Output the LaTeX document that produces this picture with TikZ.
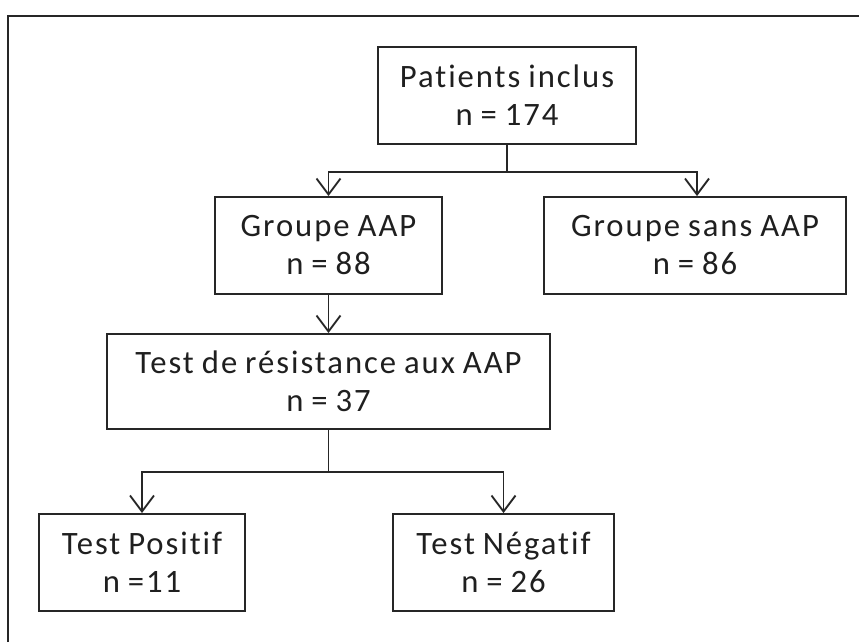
\documentclass[tikz,border=0pt]{standalone}
\usepackage{fontspec}
\setmainfont[Ligatures=NoCommon,LetterSpace=6,WordSpace=0.85]{Carlito}
\usetikzlibrary{arrows.meta}
\begin{document}
\begin{tikzpicture}[x=0.75pt,y=-0.75pt,
  box/.style={draw=black!85,line width=1.4pt,rectangle,inner sep=0pt,minimum height=72.75pt,
    align=center,font=\fontsize{24.5}{28.5}\selectfont,text=black!88},
  link/.style={draw=black!85,line width=1.4pt},
  arr/.style={link,-{Straight Barb[length=12pt,width=18pt,line width=1.4pt]}}]
\useasboundingbox (0,0) rectangle (859,642);
\draw[line width=1.4pt,black!85] (8,642) -- (8,16) -- (859,16);
\node[box,minimum width=193.5pt] (P) at (507,95.5) {Patients inclus\\n = 174};
\node[box,minimum width=170.25pt] (G) at (328.5,245.5) {Groupe AAP\\n = 88};
\node[box,minimum width=226.5pt] (S) at (695,245.5) {Groupe sans AAP\\n = 86};
\node[box,minimum width=332.25pt,minimum height=71.25pt] (T) at (328.5,381.5) {Test de résistance aux AAP\\n = 37};
\node[box,minimum width=154.5pt] (Pos) at (142,562.5) {Test Positif\\n =11};
\node[box,minimum width=165.75pt] (Neg) at (503.5,562.5) {Test Négatif\\n = 26};
\coordinate (j1) at (507,172);
\coordinate (j2) at (328.5,472);
\draw[link] (P.south) -- (j1);
\draw[arr] (j1) -| (G.north);
\draw[arr] (j1) -| ([xshift=1.5pt]S.north);
\draw[arr] (G.south) -- (T.north);
\draw[link] (T.south) -- (j2);
\draw[arr] (j2) -| (Pos.north);
\draw[arr] (j2) -| (Neg.north);
\end{tikzpicture}
\end{document}
